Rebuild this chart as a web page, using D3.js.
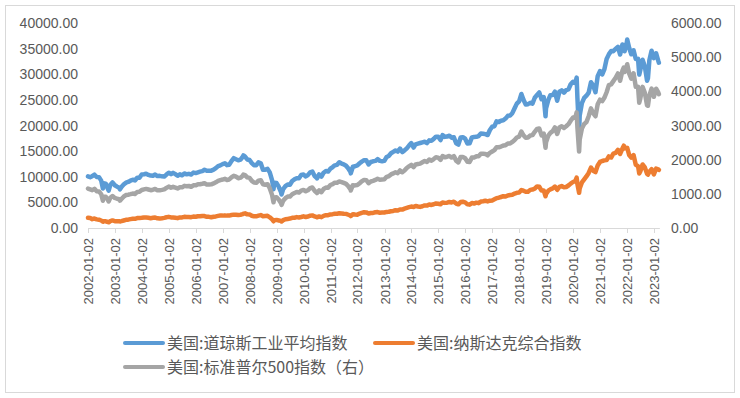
<!DOCTYPE html>
<html>
<head>
<meta charset="utf-8">
<script src="https://cdn.jsdelivr.net/npm/d3@7"></script>
<style>
  body { margin: 0; background: #fff; }
  svg { display: block; font-family: "Noto Sans CJK SC", "Liberation Sans", sans-serif; }
</style>
</head>
<body>
<svg></svg>
<script>
// month-end closes, Jan 2002 .. Feb 2023
const dowMonthly = [
  9920, 10106, 10404, 9946, 9925, 9243, 8737, 8664, 7592, 8397, 8896, 8342,
  8054, 7891, 7992, 8480, 8850, 8985, 9234, 9416, 9275, 9801, 9782, 10454,
  10488, 10584, 10358, 10226, 10188, 10435, 10140, 10174, 10080, 10027, 10428, 10783,
  10490, 10766, 10504, 10193, 10467, 10275, 10641, 10482, 10569, 10440, 10806, 10718,
  10865, 10993, 11109, 11367, 11168, 11150, 11186, 11381, 11679, 12081, 12222, 12463,
  12622, 12269, 12354, 13063, 13628, 13409, 13212, 13358, 13896, 13930, 13372, 13265,
  12650, 12266, 12263, 12820, 12638, 11350, 11378, 11544, 10851, 9325, 8829, 8776,
  8001, 7063, 7609, 8168, 8500, 8447, 9172, 9496, 9712, 9713, 10345, 10428,
  10067, 10325, 10857, 11009, 10137, 9774, 10466, 10015, 10788, 11118, 11006, 11578,
  11892, 12226, 12320, 12811, 12570, 12414, 12143, 11614, 10913, 11955, 12046, 12218,
  12633, 12952, 13212, 13214, 12393, 12880, 13009, 13091, 13437, 13096, 13026, 13104,
  13861, 14054, 14579, 14840, 15116, 14910, 15500, 14810, 15130, 15546, 16086, 16577,
  15699, 16322, 16458, 16581, 16717, 16827, 16563, 17098, 17043, 17391, 17828, 17823,
  17165, 18133, 17776, 17841, 18011, 17620, 17690, 16528, 16285, 17664, 17720, 17425,
  16466, 16517, 17685, 17774, 17787, 17930, 18432, 18401, 18308, 18142, 19124, 19763,
  19864, 20812, 20663, 20941, 21009, 21350, 21891, 21948, 22405, 23377, 24272, 24719,
  26149, 25029, 24103, 24163, 24416, 24271, 25415, 25965, 26458, 25116, 25538, 23327,
  24999, 25916, 25929, 26593, 24815, 26600, 26864, 26403, 26917, 27046, 28051, 28538,
  28256, 25409, 21917, 24346, 25383, 25813, 26428, 28430, 27782, 26502, 29639, 30606,
  29983, 30932, 32982, 33875, 34529, 34503, 34935, 35361, 33844, 35820, 34484, 36338,
  35132, 33893, 34678, 32977, 33000, 30775, 32845, 31510, 28726, 32733, 34590, 33147,
  34086, 32657
];
const nasdaqMonthly = [
  1934, 1731, 1845, 1688, 1616, 1463, 1328, 1315, 1172, 1330, 1479, 1336,
  1321, 1338, 1341, 1464, 1596, 1623, 1735, 1810, 1787, 1932, 1960, 2003,
  2066, 2030, 1994, 1920, 1987, 2048, 1887, 1838, 1897, 1975, 2097, 2175,
  2062, 2052, 1999, 1922, 2068, 2057, 2185, 2152, 2152, 2120, 2233, 2205,
  2306, 2281, 2340, 2323, 2179, 2172, 2091, 2184, 2258, 2367, 2432, 2415,
  2464, 2416, 2422, 2525, 2605, 2603, 2546, 2596, 2702, 2859, 2661, 2652,
  2390, 2271, 2279, 2413, 2523, 2293, 2326, 2368, 2092, 1721, 1536, 1577,
  1476, 1378, 1529, 1717, 1774, 1835, 1979, 2009, 2122, 2045, 2145, 2269,
  2147, 2238, 2398, 2461, 2257, 2109, 2255, 2114, 2369, 2507, 2498, 2653,
  2700, 2782, 2781, 2874, 2835, 2774, 2756, 2580, 2415, 2684, 2620, 2605,
  2814, 2967, 3091, 3046, 2827, 2935, 2940, 3067, 3116, 2977, 3010, 3020,
  3142, 3160, 3268, 3329, 3456, 3403, 3626, 3590, 3771, 3920, 4060, 4177,
  4104, 4308, 4199, 4115, 4243, 4408, 4370, 4580, 4493, 4631, 4792, 4736,
  4635, 4964, 4901, 4941, 5070, 4987, 5128, 4777, 4620, 5054, 5109, 5007,
  4614, 4558, 4870, 4775, 4948, 4843, 5162, 5213, 5312, 5189, 5324, 5383,
  5615, 5825, 5912, 6048, 6199, 6140, 6348, 6429, 6496, 6728, 6874, 6903,
  7411, 7273, 7063, 7066, 7442, 7510, 7672, 8110, 8046, 7306, 7331, 6635,
  7282, 7533, 7729, 8095, 7453, 8006, 8175, 7963, 7999, 8292, 8665, 8973,
  9151, 8567, 7700, 8890, 9490, 10059, 10745, 11775, 11168, 10912, 12199, 12888,
  13071, 13192, 13247, 13962, 13749, 14504, 14673, 15259, 14449, 15498, 15538, 15645,
  14240, 13751, 14221, 12335, 12081, 11029, 12391, 11816, 10576, 10988, 11468, 10466,
  11585, 11456
];
const spMonthly = [
  1130, 1107, 1147, 1077, 1067, 990, 912, 916, 815, 886, 936, 880,
  856, 841, 848, 917, 964, 975, 990, 1008, 996, 1051, 1058, 1112,
  1131, 1145, 1126, 1107, 1121, 1141, 1102, 1104, 1115, 1130, 1174, 1212,
  1181, 1204, 1181, 1157, 1192, 1191, 1234, 1220, 1229, 1207, 1249, 1248,
  1280, 1281, 1295, 1311, 1270, 1270, 1277, 1304, 1336, 1378, 1401, 1418,
  1438, 1407, 1421, 1482, 1531, 1503, 1455, 1474, 1527, 1549, 1481, 1468,
  1379, 1331, 1323, 1386, 1400, 1280, 1267, 1283, 1166, 969, 896, 903,
  826, 735, 798, 873, 919, 919, 987, 1021, 1057, 1036, 1096, 1115,
  1074, 1104, 1169, 1187, 1089, 1031, 1102, 1049, 1141, 1183, 1181, 1258,
  1286, 1327, 1326, 1364, 1345, 1321, 1292, 1219, 1131, 1253, 1247, 1258,
  1312, 1366, 1408, 1398, 1310, 1362, 1379, 1407, 1441, 1412, 1416, 1426,
  1498, 1515, 1569, 1598, 1631, 1606, 1686, 1633, 1682, 1757, 1806, 1848,
  1783, 1859, 1872, 1884, 1924, 1960, 1931, 2003, 1972, 2018, 2068, 2059,
  1995, 2105, 2068, 2086, 2107, 2063, 2104, 1972, 1920, 2079, 2080, 2044,
  1940, 1932, 2060, 2065, 2097, 2099, 2174, 2171, 2168, 2126, 2199, 2239,
  2279, 2364, 2363, 2384, 2412, 2423, 2470, 2472, 2519, 2575, 2648, 2674,
  2824, 2714, 2641, 2648, 2705, 2718, 2816, 2902, 2914, 2712, 2760, 2507,
  2704, 2784, 2834, 2946, 2752, 2942, 2980, 2926, 2977, 3038, 3141, 3231,
  3226, 2954, 2585, 2912, 3044, 3100, 3271, 3500, 3363, 3270, 3622, 3756,
  3714, 3811, 3973, 4181, 4204, 4298, 4395, 4523, 4308, 4605, 4567, 4766,
  4516, 4374, 4530, 4132, 4132, 3785, 4130, 3955, 3586, 3872, 4080, 3840,
  4077, 3970
];

// single trading days: first day, peaks/troughs, last day
const keyDates = ["2002-01-02", "2002-07-23", "2002-10-09", "2003-03-11", "2007-10-09", "2008-11-20",
  "2009-03-09", "2010-07-02", "2011-10-03", "2018-12-24", "2020-02-19", "2020-03-23",
  "2021-11-19", "2022-01-04", "2022-06-16", "2022-10-12", "2023-03-09"];
const dowKey = [10073, 7702, 7286, 7524, 14165, 7552, 6547, 9686, 10655, 21792, 29348, 18592,
  35601, 36799, 29927, 29210, 32254];
const nasdaqKey = [1979, 1229, 1114, 1279, 2803, 1316, 1269, 2091, 2335, 6193, 9817, 6861,
  16057, 15622, 10646, 10417, 11338];
const spKey = [1154, 797, 777, 800, 1565, 752, 677, 1023, 1099, 2351, 3386, 2237,
  4698, 4793, 3667, 3577, 3918];

const leftTicks = [0, 5000, 10000, 15000, 20000, 25000, 30000, 35000, 40000];
const rightTicks = [0, 1000, 2000, 3000, 4000, 5000, 6000];
const yearTicks = d3.range(2002, 2024).map(y => y + "-01-02");
const seriesNames = ["美国:道琼斯工业平均指数", "美国:纳斯达克综合指数", "美国:标准普尔500指数（右）"];

const parse = d3.timeParse("%Y-%m-%d");
const width = 740, height = 398;
const svg = d3.select("svg").attr("width", width).attr("height", height);

svg.append("rect")
  .attr("x", 5.5).attr("y", 5.5).attr("width", 729).attr("height", 387)
  .attr("fill", "#fff").attr("stroke", "#d9d9d9");

// build rows: month-end closes + key days, sorted by date
const rows = [];
dowMonthly.forEach((v, i) => {
  const d = new Date(2002, i + 1, 0);
  rows.push({ date: d, dow: v, nasdaq: nasdaqMonthly[i], sp: spMonthly[i] });
});
keyDates.forEach((s, i) => {
  rows.push({ date: parse(s), dow: dowKey[i], nasdaq: nasdaqKey[i], sp: spKey[i] });
});
rows.sort((a, b) => a.date - b.date);

const x = d3.scaleTime()
  .domain([parse("2002-01-02"), parse("2023-01-02")])
  .range([88, 654]);
const yL = d3.scaleLinear().domain([0, 40000]).range([228, 23]);
const yR = d3.scaleLinear().domain([0, 6000]).range([228, 23]);

const endX = x(parse("2023-03-09"));

// x axis
const xAxis = svg.append("g").attr("transform", "translate(0,228)");
xAxis.append("line")
  .attr("x1", 88).attr("x2", endX + 1).attr("y1", 0.5).attr("y2", 0.5)
  .attr("stroke", "#d9d9d9");
yearTicks.forEach(t => {
  const xp = Math.round(x(parse(t))) + 0.5;
  xAxis.append("line")
    .attr("x1", xp).attr("x2", xp).attr("y1", 0).attr("y2", 5)
    .attr("stroke", "#d9d9d9");
  xAxis.append("text")
    .attr("transform", `translate(${xp + 4.5},10) rotate(-90)`)
    .attr("text-anchor", "end")
    .attr("font-family", "Liberation Sans, sans-serif")
    .attr("font-size", "13px")
    .attr("fill", "#595959")
    .text(t);
});

// y tick labels
leftTicks.forEach(v => {
  svg.append("text")
    .attr("x", 78).attr("y", yL(v) + 5)
    .attr("text-anchor", "end")
    .attr("font-family", "Liberation Sans, sans-serif")
    .attr("font-size", "14px")
    .attr("fill", "#595959")
    .text(d3.format(".2f")(v));
});
rightTicks.forEach(v => {
  svg.append("text")
    .attr("x", 671).attr("y", yR(v) + 5)
    .attr("font-family", "Liberation Sans, sans-serif")
    .attr("font-size", "14px")
    .attr("fill", "#595959")
    .text(d3.format(".2f")(v));
});

// lines (secondary axis drawn last, on top)
const colors = ["#5b9bd5", "#ed7d31", "#a5a5a5"];
const lineDow = d3.line().x(d => x(d.date)).y(d => yL(d.dow));
const lineNas = d3.line().x(d => x(d.date)).y(d => yL(d.nasdaq));
const lineSp = d3.line().x(d => x(d.date)).y(d => yR(d.sp));

[lineDow, lineNas, lineSp].forEach((ln, i) => {
  svg.append("path")
    .datum(rows)
    .attr("d", ln)
    .attr("fill", "none")
    .attr("stroke", colors[i])
    .attr("stroke-width", 4.5)
    .attr("stroke-linejoin", "round")
    .attr("stroke-linecap", "round");
});

// legend
const legendPos = [[125, 343], [375, 343], [125, 367]];
seriesNames.forEach((name, i) => {
  const [lx, ly] = legendPos[i];
  svg.append("line")
    .attr("x1", lx).attr("x2", lx + 38).attr("y1", ly).attr("y2", ly)
    .attr("stroke", colors[i]).attr("stroke-width", 4).attr("stroke-linecap", "round");
  svg.append("text")
    .attr("x", lx + 42).attr("y", ly + 5.5)
    .attr("font-size", "16px")
    .attr("fill", "#595959")
    .text(name);
});
</script>
</body>
</html>
